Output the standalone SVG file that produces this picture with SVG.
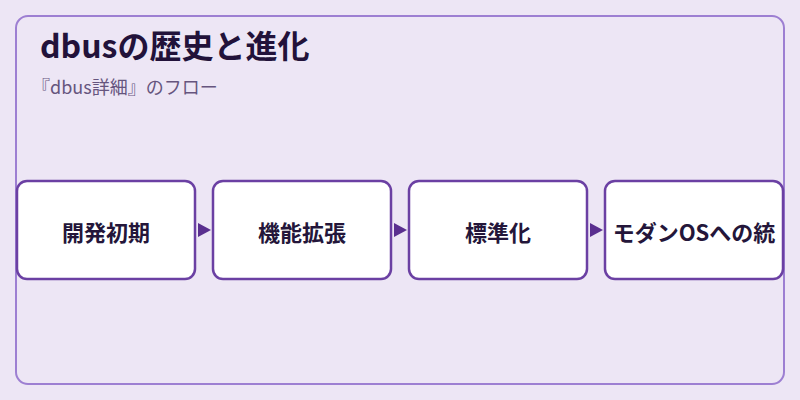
<svg xmlns="http://www.w3.org/2000/svg" width="800" height="400" viewBox="0 0 800 400">
<defs>
<style>
.frame{fill:#ede6f5;stroke:#9d7fd2;stroke-width:2}
.node rect{fill:#ffffff;stroke:#6b40a3;stroke-width:2.5}
.node text{font-family:"Noto Sans CJK JP","Noto Sans",sans-serif;font-size:22px;font-weight:700;fill:#24163a;text-anchor:middle;dominant-baseline:central}
.arrow{fill:#5a2f8f}
.title{font-family:"Noto Sans CJK JP","Noto Sans",sans-serif;font-size:32px;font-weight:700;fill:#22123a}
.sub{font-family:"Noto Sans CJK JP","Noto Sans",sans-serif;font-size:18px;fill:#66557e}
</style>
</defs>
<rect width="800" height="400" fill="#ede6f5"/>
<rect class="frame" x="16" y="16" width="768" height="368" rx="12"/>
<text class="title" x="40" y="58">dbusの歴史と進化</text>
<text class="sub" x="32" y="94">『dbus詳細』のフロー</text>
<g id="connectors">
<polygon class="arrow" points="198,223 211,230 198,237"/>
<polygon class="arrow" points="394,223 407,230 394,237"/>
<polygon class="arrow" points="590,223 603,230 590,237"/>
</g>
<g id="node1" class="node"><rect x="17" y="181" width="178" height="98" rx="10"/><text x="106" y="231">開発初期</text></g>
<g id="node2" class="node"><rect x="213" y="181" width="178" height="98" rx="10"/><text x="302" y="231">機能拡張</text></g>
<g id="node3" class="node"><rect x="409" y="181" width="178" height="98" rx="10"/><text x="498" y="231">標準化</text></g>
<g id="node4" class="node"><rect x="605" y="181" width="178" height="98" rx="10"/><text x="694" y="231">モダンOSへの統</text></g>
</svg>
